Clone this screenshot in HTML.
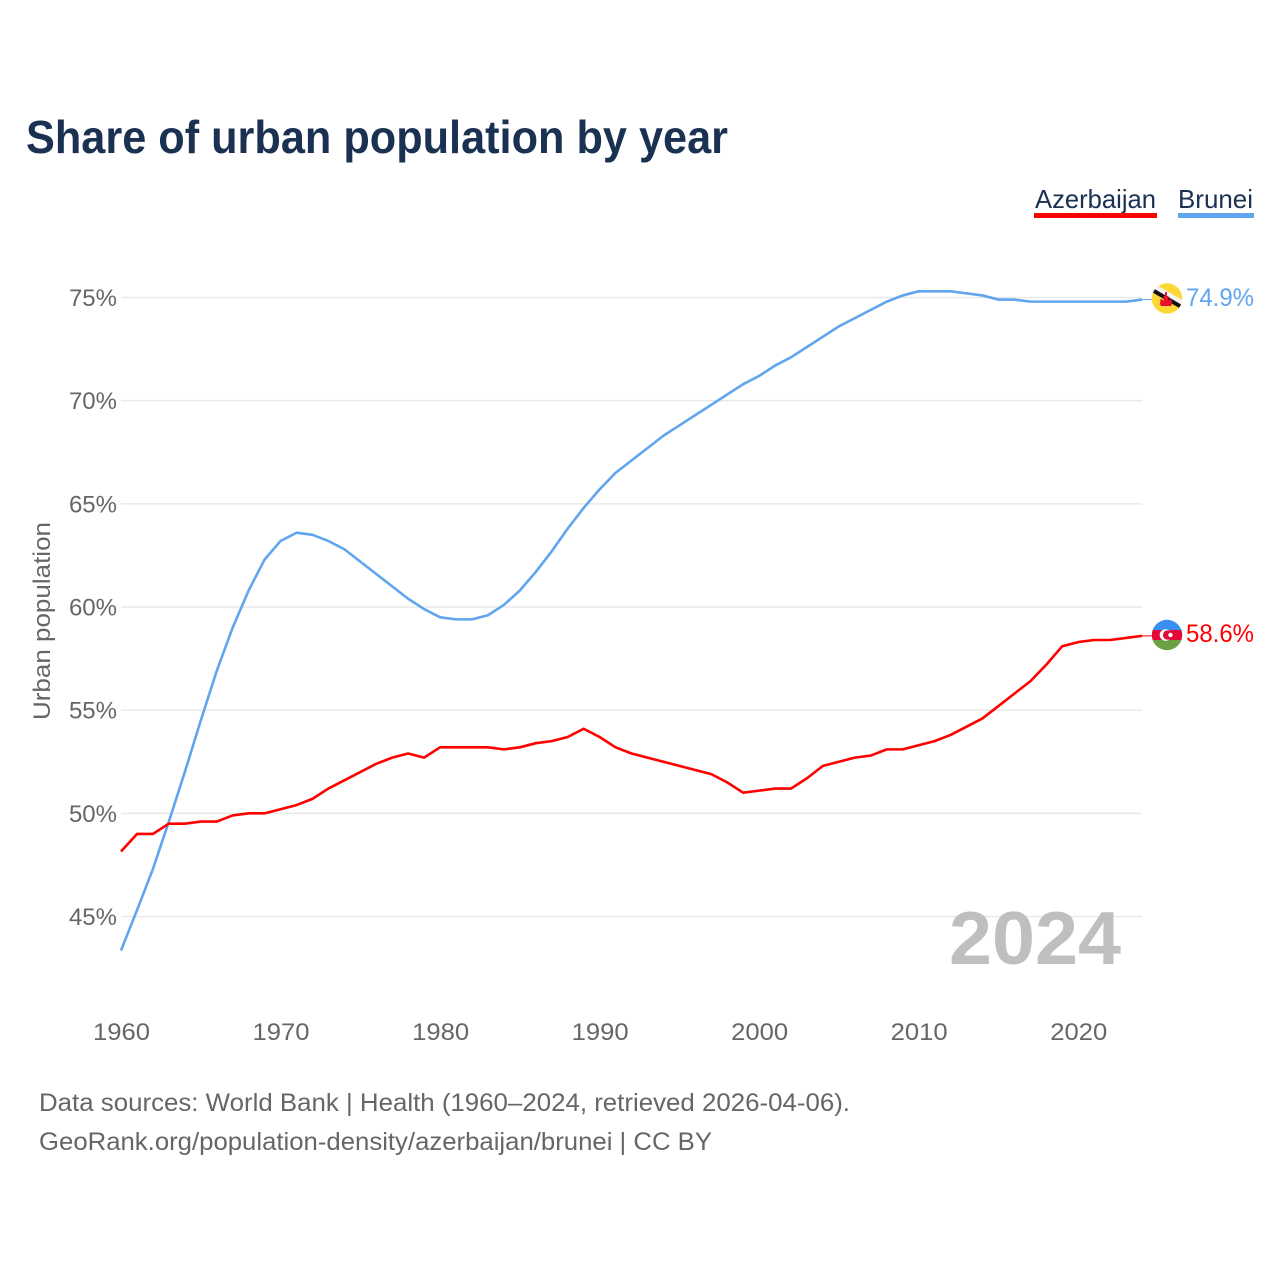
<!DOCTYPE html>
<html lang="en">
<head>
<meta charset="utf-8">
<title>Share of urban population by year</title>
<style>
html,body{margin:0;padding:0;background:#fff;}
svg{display:block;}
text{font-family:"Liberation Sans",sans-serif;}
</style>
</head>
<body>
<svg id="chart" width="1280" height="1280" viewBox="0 0 1280 1280" xmlns="http://www.w3.org/2000/svg">
  <defs>
    <clipPath id="clip-bn"><circle cx="1167" cy="298.5" r="15.2"/></clipPath>
    <clipPath id="clip-az"><circle cx="1167" cy="635" r="15.2"/></clipPath>
  </defs>
  <rect width="1280" height="1280" fill="#fff"/>
  <text x="26" y="153" font-size="46" font-weight="700" fill="#1a3152" textLength="702" lengthAdjust="spacingAndGlyphs">Share of urban population by year</text>

  <g>
    <g>
      <text x="1035" y="208" font-size="26" fill="#1a3152" textLength="121" lengthAdjust="spacingAndGlyphs">Azerbaijan</text>
      <rect x="1034" y="213" width="123" height="5" fill="#ff0000"/>
    </g>
    <g>
      <text x="1178" y="208" font-size="26" fill="#1a3152" textLength="75" lengthAdjust="spacingAndGlyphs">Brunei</text>
      <rect x="1178" y="213" width="76" height="5" fill="#60a5ed"/>
    </g>
  </g>

  <g id="grid"></g>
  <g id="yticks"></g>
  <g id="xticks"></g>
  <text transform="translate(50,621) rotate(-90)" text-anchor="middle" font-size="24" fill="#666" textLength="198" lengthAdjust="spacingAndGlyphs">Urban population</text>

  <text x="949" y="964" font-size="75" font-weight="700" fill="#bfbfbf" textLength="172" lengthAdjust="spacingAndGlyphs">2024</text>

  <g id="series"></g>

  <g clip-path="url(#clip-bn)">
    <rect x="1151" y="283" width="32" height="32" fill="#fdd835"/>
    <polygon points="1150,288 1153,283 1184,301 1181,306.500" fill="#f4f4f4"/>
    <polygon points="1150,291 1152,287.500 1183,305.500 1181,309" fill="#111"/>
    <path d="M1165,292 h2 v4 h1.500 v5 l2,-2 h1 l0.500,5 l-1,2 h-10 l-1,-2 l0.500,-5 h1 l2,2 v-5 h1.500z" fill="#e8112d"/>
  </g>
  <g clip-path="url(#clip-az)">
    <rect x="1151" y="619" width="32" height="11" fill="#3a8ff0"/>
    <rect x="1151" y="630" width="32" height="10" fill="#e30a3a"/>
    <rect x="1151" y="640" width="32" height="11" fill="#6d9f45"/>
    <circle cx="1165.500" cy="635" r="5.800" fill="#fff"/>
    <circle cx="1167.500" cy="635" r="4.600" fill="#e30a3a"/>
    <circle cx="1170.500" cy="635" r="2.200" fill="#fff"/>
  </g>

  <text id="value-brunei" x="1186" y="306" font-size="25" fill="#60a5ed" textLength="68" lengthAdjust="spacingAndGlyphs">74.9%</text>
  <text id="value-azerbaijan" x="1186" y="642" font-size="25" fill="#ff0000" textLength="68" lengthAdjust="spacingAndGlyphs">58.6%</text>

  <g>
    <text x="39" y="1111" font-size="25" fill="#666" textLength="811" lengthAdjust="spacingAndGlyphs">Data sources: World Bank | Health (1960–2024, retrieved 2026-04-06).</text>
    <text x="39" y="1150" font-size="25" fill="#666" textLength="673" lengthAdjust="spacingAndGlyphs">GeoRank.org/population-density/azerbaijan/brunei | CC BY</text>
  </g>
</svg>
<script>
const years = [1960,1961,1962,1963,1964,1965,1966,1967,1968,1969,1970,1971,1972,1973,1974,1975,1976,1977,1978,1979,1980,1981,1982,1983,1984,1985,1986,1987,1988,1989,1990,1991,1992,1993,1994,1995,1996,1997,1998,1999,2000,2001,2002,2003,2004,2005,2006,2007,2008,2009,2010,2011,2012,2013,2014,2015,2016,2017,2018,2019,2020,2021,2022,2023,2024];
const azerbaijan = [48.15,49.0,49.0,49.5,49.5,49.6,49.6,49.9,50.0,50.0,50.2,50.4,50.7,51.2,51.6,52.0,52.4,52.7,52.9,52.7,53.2,53.2,53.2,53.2,53.1,53.2,53.4,53.5,53.7,54.1,53.7,53.2,52.9,52.7,52.5,52.3,52.1,51.9,51.5,51.0,51.1,51.2,51.2,51.7,52.3,52.5,52.7,52.8,53.1,53.1,53.3,53.5,53.8,54.2,54.6,55.2,55.8,56.4,57.2,58.1,58.3,58.4,58.4,58.5,58.6];
const brunei = [43.35,45.3,47.3,49.6,52.0,54.5,56.9,59.0,60.8,62.3,63.2,63.6,63.5,63.2,62.8,62.2,61.6,61.0,60.4,59.9,59.5,59.4,59.4,59.6,60.1,60.8,61.7,62.7,63.8,64.8,65.7,66.5,67.1,67.7,68.3,68.8,69.3,69.8,70.3,70.8,71.2,71.7,72.1,72.6,73.1,73.6,74.0,74.4,74.8,75.1,75.3,75.3,75.3,75.2,75.1,74.9,74.9,74.8,74.8,74.8,74.8,74.8,74.8,74.8,74.9];
const yTickValues = [45,50,55,60,65,70,75];
const xTickValues = [1960,1970,1980,1990,2000,2010,2020];

const NS = 'http://www.w3.org/2000/svg';
function xScale(year){ return 121 + (year - 1960) * (1142 - 121) / 64; }
function yScale(v){ return 297.5 + (75 - v) * (916.5 - 297.5) / 30; }
function make(tag, parent, attrs){
  const el = document.createElementNS(NS, tag);
  Object.keys(attrs).forEach(function(k){ el.setAttribute(k, attrs[k]); });
  parent.appendChild(el);
  return el;
}

const gridG = document.getElementById('grid');
const yG = document.getElementById('yticks');
const xG = document.getElementById('xticks');
const seriesG = document.getElementById('series');

yTickValues.forEach(function(v){
  const line = make('line', gridG, {x1:121, x2:1142, y1:yScale(v), y2:yScale(v), stroke:'#e9e9e9', 'stroke-width':1.5});
  
  
  const t = make('text', yG, {x:117, y:yScale(v)+8.5, 'text-anchor':'end', 'font-size':24, fill:'#666'});
  
  
  t.textContent = v + '%';
});

xTickValues.forEach(function(y){
  const t = make('text', xG, {x:xScale(y)+0.5, y:1040, 'text-anchor':'middle', 'font-size':24, fill:'#666', textLength:57, lengthAdjust:'spacingAndGlyphs'});
  
  
  t.textContent = y;
});

function drawSeries(values, color, name){
  const d = values.map(function(v, i){
    return (i ? 'L' : 'M') + xScale(years[i]).toFixed(2) + ',' + yScale(v).toFixed(2);
  }).join(' ');
  const p = make('path', seriesG, {d:d, fill:'none', stroke:color, 'stroke-width':2.6, 'stroke-linejoin':'round'});
  
  
  const lastV = values[values.length - 1];
  const c = make('line', seriesG, {x1:1142, x2:1153, y1:yScale(lastV), y2:yScale(lastV), stroke:color, 'stroke-width':1});
  
  
}
drawSeries(brunei, '#60a5ed', 'line-brunei');
drawSeries(azerbaijan, '#ff0000', 'line-azerbaijan');
</script>
</body>
</html>
